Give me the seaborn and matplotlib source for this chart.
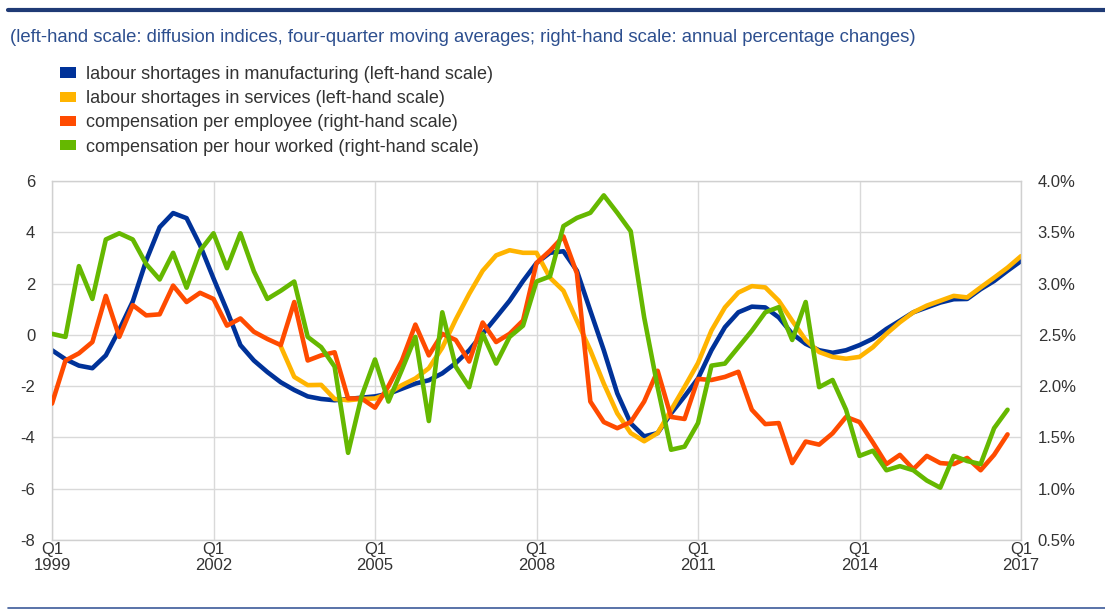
import numpy as np
import pandas as pd
import matplotlib.pyplot as plt
import seaborn as sns
from matplotlib.patches import Patch
from matplotlib.lines import Line2D
from matplotlib.ticker import FuncFormatter

# quarterly dates, 1999Q1 - 2017Q1
quarters = pd.period_range('1999Q1', '2017Q1', freq='Q')

# left-hand scale: diffusion indices, four-quarter moving averages
manufacturing = [
    -0.6, -0.95, -1.2, -1.3, -0.8, 0.2, 1.3, 2.9, 4.2, 4.75,
    4.55, 3.5, 2.2, 0.95, -0.4, -1.0, -1.45, -1.85, -2.15, -2.4,
    -2.5, -2.55, -2.5, -2.45, -2.4, -2.3, -2.1, -1.9, -1.77, -1.5,
    -1.1, -0.6, 0.04, 0.68, 1.33, 2.1, 2.8, 3.2, 3.26, 2.5,
    0.94, -0.6, -2.28, -3.45, -3.96, -3.83, -3.06, -2.4, -1.7, -0.6,
    0.3, 0.88, 1.1, 1.07, 0.68, 0.04, -0.35, -0.6, -0.7, -0.6,
    -0.4, -0.15, 0.23, 0.55, 0.88, 1.07, 1.26, 1.39, 1.4, 1.78,
    2.1, 2.5, 2.88,
]
services = [np.nan] * 17 + [
    -0.45, -1.64, -1.96, -1.95, -2.5, -2.55, -2.5, -2.48, -2.28, -1.96,
    -1.7, -1.3, -0.5, 0.6, 1.6, 2.5, 3.1, 3.3, 3.2, 3.2,
    2.23, 1.72, 0.55, -0.6, -1.9, -3.06, -3.83, -4.15, -3.83, -2.93,
    -2.03, -1.1, 0.17, 1.07, 1.65, 1.9, 1.85, 1.33, 0.55, -0.2,
    -0.67, -0.86, -0.93, -0.86, -0.48, 0.04, 0.49, 0.88, 1.14, 1.33,
    1.52, 1.46, 1.85, 2.23, 2.62, 3.07,
]

# right-hand scale: annual percentage changes (1999Q1 - 2016Q4)
comp_per_employee = [
    1.83, 2.25, 2.32, 2.43, 2.88, 2.48, 2.79, 2.69, 2.70, 2.98,
    2.82, 2.91, 2.85, 2.59, 2.66, 2.53, 2.46, 2.40, 2.82, 2.25,
    2.30, 2.33, 1.88, 1.88, 1.79, 2.00, 2.25, 2.60, 2.30, 2.51,
    2.45, 2.24, 2.62, 2.43, 2.51, 2.64, 3.20, 3.32, 3.46, 3.10,
    1.85, 1.65, 1.59, 1.65, 1.85, 2.15, 1.70, 1.68, 2.07, 2.06,
    2.09, 2.14, 1.77, 1.63, 1.64, 1.25, 1.46, 1.43, 1.54, 1.70,
    1.65, 1.45, 1.24, 1.33, 1.19, 1.32, 1.25, 1.24, 1.30, 1.18,
    1.33, 1.53,
]
comp_per_hour = [
    2.51, 2.48, 3.17, 2.85, 3.43, 3.49, 3.43, 3.19, 3.04, 3.30,
    2.96, 3.32, 3.49, 3.15, 3.49, 3.12, 2.85, 2.93, 3.02, 2.48,
    2.38, 2.19, 1.35, 1.90, 2.26, 1.85, 2.16, 2.48, 1.66, 2.72,
    2.19, 1.99, 2.51, 2.22, 2.48, 2.59, 3.02, 3.07, 3.56, 3.64,
    3.69, 3.86, 3.69, 3.51, 2.67, 1.99, 1.38, 1.41, 1.64, 2.20,
    2.22, 2.38, 2.54, 2.72, 2.77, 2.45, 2.82, 1.99, 2.06, 1.77,
    1.32, 1.37, 1.18, 1.22, 1.18, 1.08, 1.01, 1.32, 1.27, 1.24,
    1.59, 1.77,
]

labels = [
    'labour shortages in manufacturing (left-hand scale)',
    'labour shortages in services (left-hand scale)',
    'compensation per employee (right-hand scale)',
    'compensation per hour worked (right-hand scale)',
]
colors = ['#003299', '#ffb400', '#ff4b00', '#65b800']
tick_years = [1999, 2002, 2005, 2008, 2011, 2014, 2017]

sns.set_theme(style='white')
plt.rcParams['font.family'] = ['Liberation Sans', 'DejaVu Sans']
plt.rcParams['axes.unicode_minus'] = False

x = quarters.year + (quarters.quarter - 1) / 4
W, H = 1105, 614
fig = plt.figure(figsize=(W / 100, H / 100), dpi=100)
ax = fig.add_axes([52 / W, 1 - 540 / H, (1021 - 52) / W, (540 - 181) / H])
ax2 = ax.twinx()

lw = 3.3
sns.lineplot(x=x, y=manufacturing, ax=ax, color=colors[0], lw=lw)
sns.lineplot(x=x, y=services, ax=ax, color=colors[1], lw=lw)
sns.lineplot(x=x[:-1], y=comp_per_employee, ax=ax2, color=colors[2], lw=lw)
sns.lineplot(x=x[:-1], y=comp_per_hour, ax=ax2, color=colors[3], lw=lw)

ax.set_xlim(1999, 2017)
ax.set_ylim(-8, 6)
ax.set_yticks(range(-8, 7, 2))
ax2.set_ylim(0.5, 4.0)
ax2.set_yticks(np.arange(0.5, 4.01, 0.5))
ax2.yaxis.set_major_formatter(FuncFormatter(lambda v, p: f'{v:.1f}%'))
ax.set_xticks(tick_years)
ax.set_xticklabels([f'Q1\n{y}' for y in tick_years], linespacing=1.1)

ax.grid(True, color='#d9d9d9', lw=1)
ax2.grid(False)
for s in ax.spines.values():
    s.set_color('#d0d0d0')
    s.set_linewidth(1)
for s in ax2.spines.values():
    s.set_visible(False)

ax.tick_params(axis='y', length=0, pad=12, labelsize=12, labelcolor='#333333')
ax.tick_params(axis='x', length=0, pad=1.5, labelsize=12, labelcolor='#333333')
ax2.tick_params(axis='y', length=0, pad=12, labelsize=12, labelcolor='#333333')
ax.set_xlabel('')

# header rule, subtitle, footer rule
fig.add_artist(Line2D([8 / W, 1], [1 - 10 / H] * 2, color='#1f3a75', lw=3,
                      transform=fig.transFigure))
fig.add_artist(Line2D([8 / W, 1], [1 - 608 / H] * 2, color='#3c5a99', lw=1.2,
                      transform=fig.transFigure))
fig.text(10 / W, 1 - 37 / H,
         '(left-hand scale: diffusion indices, four-quarter moving averages; '
         'right-hand scale: annual percentage changes)',
         ha='left', va='center', fontsize=13.3, color='#2d4f8f')

handles = [Patch(facecolor=c, edgecolor='none') for c in colors]
leg = fig.legend(handles, labels, loc='upper left',
                 bbox_to_anchor=(60 / W, 1 - 66 / H), frameon=False,
                 fontsize=13, handlelength=0.9, handleheight=0.5,
                 handletextpad=0.55, labelspacing=0.4,
                 borderpad=0, borderaxespad=0)
for t in leg.get_texts():
    t.set_color('#333333')

fig.savefig('out.png', dpi=100)
